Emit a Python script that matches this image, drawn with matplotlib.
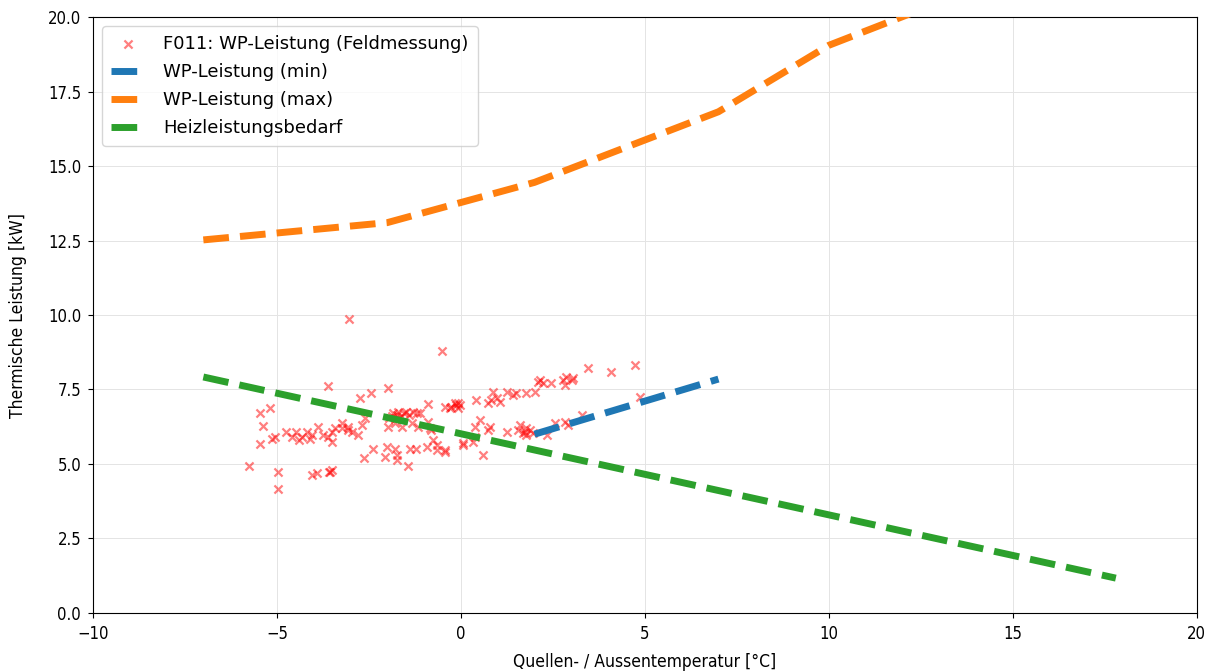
import matplotlib
matplotlib.use("Agg")
import matplotlib.pyplot as plt

# Field measurements: source/outdoor temperature [°C] vs. thermal output [kW]
feld_temp = [
    -5.76, -4.98, -4.98, -5.46, -5.19, -5.37, -5.46, -5.13, -5.05,
    -4.74, -4.60, -4.47, -4.33, -4.19, -4.06, -3.88, -3.74, -3.61, -3.51, -3.42,
    -3.24, -3.24, -3.06, -3.51, -4.40, -4.10,
    -4.06, -3.91, -3.59, -3.50, -3.55,
    -3.62, -3.03, -2.74, -2.43, -1.98,
    -3.06, -2.97, -2.79, -2.61, -2.70,
    -2.63, -2.38, -2.07, -1.75, -1.75, -1.43, -2.02, -1.79, -1.39, -1.21, -0.93,
    -0.75, -0.66, -0.43, -0.80, -0.66, -0.43,
    -1.95, -1.88, -1.85, -1.80, -1.75, -1.70, -1.62, -1.55, -1.48, -1.40, -1.30,
    -1.20, -1.10,
    -1.98, -1.79, -1.61, -1.34, -1.16, -0.89, -0.84,
    -0.89, -0.50, -0.43, -0.26, -0.07, -0.12, -0.30, -0.03, -0.07, -0.15,
    0.42, 0.74, 0.88, 0.97, 1.06, 0.83, 1.24, 1.51, 1.42, 1.78, 2.01, 2.10,
    2.24, 2.46, 2.15, 2.78, 2.87, 3.01, 2.83, 3.05, 3.46, 4.09, 4.73, 4.86,
    0.38, 0.52, 0.74, 0.79, 1.24, 1.60, 1.56, 1.69, 1.78, 1.74, 1.78, 1.88,
    1.95, 2.33, 2.55, 2.83, 2.92, 3.28,
    0.06, 0.33, 0.61, 0.38, 0.06,
]
feld_leistung = [
    4.93, 4.74, 4.15, 6.70, 6.87, 6.28, 5.67, 5.84, 5.90,
    6.08, 5.92, 6.08, 5.92, 6.08, 5.97, 6.25, 5.97, 5.92, 6.08, 6.20,
    6.37, 6.20, 6.14, 5.75, 5.80, 5.85,
    4.63, 4.71, 4.74, 4.80, 4.72,
    7.63, 9.87, 7.23, 7.37, 7.54,
    6.25, 6.08, 5.97, 6.53, 6.31,
    5.19, 5.50, 5.25, 5.30, 5.13, 4.93, 5.58, 5.52, 5.52, 5.52, 5.58,
    5.81, 5.47, 5.47, 6.14, 5.64, 5.41,
    6.55, 6.60, 6.70, 6.50, 6.65, 6.75, 6.60, 6.70, 6.75, 6.65, 6.75,
    6.70, 6.72,
    6.25, 6.37, 6.25, 6.37, 6.25, 6.42, 6.20,
    7.00, 8.80, 6.92, 6.92, 7.04, 6.98, 6.87, 6.98, 6.87, 7.05,
    7.15, 7.04, 7.43, 7.20, 7.09, 7.15, 7.43, 7.37, 7.32, 7.37, 7.43, 7.76,
    7.71, 7.71, 7.82, 7.82, 7.93, 7.82, 7.65, 7.90, 8.21, 8.10, 8.32, 7.26,
    6.25, 6.48, 6.14, 6.25, 6.08, 6.31, 6.14, 6.03, 6.20, 6.08, 5.97, 6.14,
    6.05, 5.97, 6.37, 6.42, 6.31, 6.64,
    5.64, 5.75, 5.30, 5.92, 5.69,
]

# Heat pump characteristic curves
wp_min_temp = [2, 7]
wp_min_leistung = [6.0, 7.85]

wp_max_temp = [-7, -2, 2, 7, 10, 15]
wp_max_leistung = [12.52, 13.10, 14.45, 16.82, 19.05, 21.45]

# Heating demand line
bedarf_temp = [-7, 17.8]
bedarf_leistung = [7.92, 1.17]

fig = plt.figure(figsize=(12.15, 6.72), dpi=100)
ax = fig.add_axes([0.0765, 0.0878, 0.9085, 0.8869])

ax.scatter(feld_temp, feld_leistung, marker="x", color="red", alpha=0.5, s=34,
           linewidths=1.6, label="F011: WP-Leistung (Feldmessung)", zorder=3)
ax.plot(wp_min_temp, wp_min_leistung, "--", color="#1f77b4", lw=5,
        label="WP-Leistung (min)", zorder=4)
ax.plot(wp_max_temp, wp_max_leistung, "--", color="#ff7f0e", lw=5,
        label="WP-Leistung (max)", zorder=4)
ax.plot(bedarf_temp, bedarf_leistung, "--", color="#2ca02c", lw=5,
        label="Heizleistungsbedarf", zorder=4)

ax.set_xlim(-10, 20)
ax.set_ylim(0, 20)
ax.set_xticks([-10, -5, 0, 5, 10, 15, 20])
ax.set_yticks([0, 2.5, 5, 7.5, 10, 12.5, 15, 17.5, 20])
ax.set_yticklabels(["0.0", "2.5", "5.0", "7.5", "10.0", "12.5", "15.0", "17.5", "20.0"])
ax.tick_params(labelsize=12, pad=5)
for lbl in ax.get_xticklabels() + ax.get_yticklabels():
    lbl.set_fontstretch("condensed")
ax.grid(True, color="#e4e4e4", lw=0.7)
ax.set_axisbelow(True)

ax.set_xlabel("Quellen- / Aussentemperatur [°C]", fontsize=12.5,
              fontstretch="condensed", labelpad=7)
ax.set_ylabel("Thermische Leistung [kW]", fontsize=12.5,
              fontstretch="condensed", labelpad=15)

ax.legend(loc="upper left", fontsize=13, handlelength=1.9, borderpad=0.5,
          handletextpad=1.0, labelspacing=0.55)

fig.savefig("out.png", dpi=100)
